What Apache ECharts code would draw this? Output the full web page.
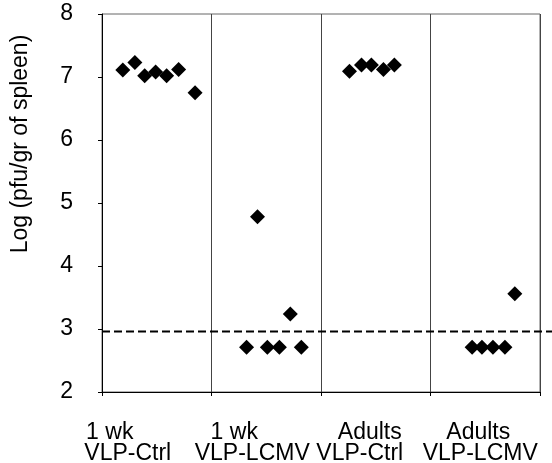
<!DOCTYPE html>
<html><head><meta charset="utf-8">
<script src="https://cdn.jsdelivr.net/npm/echarts@6/dist/echarts.min.js"></script>
<style>html,body{margin:0;padding:0;background:#fff}#c{width:552px;height:463px}</style>
</head><body><div id="c"></div>
<script>
// Category labels (two lines each)
const groupLine1 = ['1 wk', '1 wk', 'Adults', 'Adults'];
const groupLine2 = ['VLP-Ctrl', 'VLP-LCMV', 'VLP-Ctrl', 'VLP-LCMV'];
// Y axis ticks
const yTicks = [2, 3, 4, 5, 6, 7, 8];
const yTitle = 'Log (pfu/gr of spleen)';
// Detection threshold (dashed line)
const threshold = 2.96;
// Individual animals: horizontal position within the group (group i spans i..i+1) and value
const g1x = [0.19, 0.30, 0.39, 0.49, 0.59, 0.70, 0.85];
const g1y = [7.11, 7.23, 7.02, 7.08, 7.02, 7.12, 6.75];
const g2x = [1.32, 1.42, 1.51, 1.62, 1.72, 1.82];
const g2y = [2.71, 4.78, 2.71, 2.71, 3.24, 2.71];
const g3x = [2.26, 2.37, 2.46, 2.57, 2.67];
const g3y = [7.09, 7.19, 7.19, 7.12, 7.19];
const g4x = [3.38, 3.47, 3.57, 3.68, 3.77];
const g4y = [2.71, 2.71, 2.71, 2.71, 3.56];

const FONT = '"Liberation Sans", Arial, sans-serif';
const zip = (xs, ys) => xs.map((x, i) => [x, ys[i]]);
const groups = [zip(g1x, g1y), zip(g2x, g2y), zip(g3x, g3y), zip(g4x, g4y)];

const chart = echarts.init(document.getElementById('c'), null, {renderer: 'canvas'});
const option = {
  animation: false,
  backgroundColor: '#fff',
  grid: [
    {left: 102, right: 12, top: 14, bottom: 71, show: true, borderColor: '#666', borderWidth: 1, backgroundColor: 'transparent'},
    {left: 102, right: 0, top: 14, bottom: 71}
  ],
  xAxis: [
    {type: 'value', gridIndex: 0, min: 0, max: groupLine1.length, interval: 1,
     axisLine: {show: true, lineStyle: {color: '#000', width: 1}},
     axisTick: {show: true, length: 4, inside: false, lineStyle: {color: '#000'}},
     axisLabel: {show: false},
     splitLine: {show: true, lineStyle: {color: '#444', width: 1}}},
    {type: 'value', gridIndex: 1, min: 0, max: 1, show: false}
  ],
  yAxis: [
    {type: 'value', gridIndex: 0, min: yTicks[0], max: yTicks[yTicks.length - 1], interval: 1,
     name: yTitle, nameLocation: 'middle', nameGap: 70,
     nameTextStyle: {fontFamily: FONT, fontSize: 23, color: '#000', padding: [0, 0, 0, 118]},
     axisLine: {show: true, lineStyle: {color: '#000', width: 1}},
     axisTick: {show: true, length: 4, inside: false, lineStyle: {color: '#000'}},
     axisLabel: {fontFamily: FONT, fontSize: 23, color: '#000', margin: 29},
     splitLine: {show: false}},
    {type: 'value', gridIndex: 1, min: yTicks[0], max: yTicks[yTicks.length - 1], show: false}
  ],
  series: [
    {type: 'line', xAxisIndex: 1, yAxisIndex: 1, data: [[0, threshold], [1, threshold]],
     symbol: 'none', silent: true, lineStyle: {color: '#000', width: 2, type: [8, 4]}, z: 3}
  ].concat(groups.map(d => ({
    type: 'scatter', xAxisIndex: 0, yAxisIndex: 0, data: d,
    symbol: 'diamond', symbolSize: 15, itemStyle: {color: '#000', opacity: 1}, z: 5
  })))
};
chart.setOption(option);

// Two-line group labels placed under each group's band through the axis scale
const off1 = [-47, -32, -6, -7];
const off2 = [-29, -14, -16, -5];
const baseY = chart.convertToPixel({yAxisIndex: 0}, yTicks[0]);
const graphics = [];
groupLine1.forEach((t, i) => {
  const cx = chart.convertToPixel({xAxisIndex: 0}, i + 0.5);
  graphics.push({type: 'text', x: cx + off1[i], y: baseY + 41,
    style: {text: t, font: '23px ' + FONT, fill: '#000', textAlign: 'center', textVerticalAlign: 'middle'}});
  graphics.push({type: 'text', x: cx + off2[i], y: baseY + 62,
    style: {text: groupLine2[i], font: '23px ' + FONT, fill: '#000', textAlign: 'center', textVerticalAlign: 'middle'}});
});
chart.setOption({graphic: graphics});
</script>
</body></html>
